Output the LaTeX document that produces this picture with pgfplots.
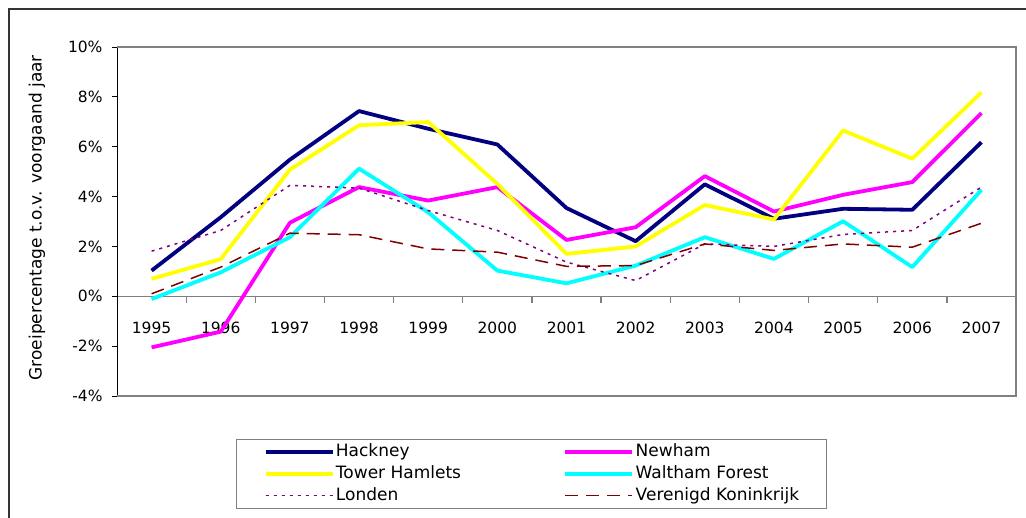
\documentclass[border=0pt]{standalone}
\usepackage{fontspec}
\setmainfont{DejaVu Sans}
\usepackage{pgfplots}
\usepackage{pgfplotstable}
\pgfplotsset{compat=1.18}
\definecolor{hack}{HTML}{000080}
\definecolor{newh}{HTML}{FF00FF}
\definecolor{towh}{HTML}{FFFF00}
\definecolor{walt}{HTML}{00FFFF}
\definecolor{lond}{HTML}{800080}
\definecolor{vk}{HTML}{800000}
\definecolor{frame}{HTML}{808080}
\pgfplotstableread{
x hackney newham tower waltham londen vk
0  1.03 -2.05 0.70 -0.11 1.81 0.10
1  3.17 -1.42 1.49  0.96 2.64 1.17
2  5.48  2.95 5.08  2.37 4.45 2.53
3  7.43  4.38 6.86  5.12 4.34 2.47
4  6.72  3.84 6.99  3.37 3.44 1.90
5  6.09  4.38 4.51  1.03 2.64 1.77
6  3.54  2.26 1.70  0.52 1.37 1.20
7  2.21  2.77 2.00  1.23 0.63 1.23
8  4.49  4.82 3.66  2.37 2.10 2.10
9  3.11  3.40 3.08  1.50 2.00 1.84
10 3.51  4.07 6.65  3.01 2.48 2.10
11 3.47  4.58 5.52  1.17 2.64 1.97
12 6.18  7.35 8.18  4.27 4.38 2.93
}\datatable
\newcommand{\fs}{\fontsize{15.5bp}{18bp}\selectfont}
\newcommand{\fl}{\fontsize{17bp}{20bp}\selectfont}
\begin{document}
\begin{tikzpicture}
\path[use as bounding box] (0,0) rectangle (1026bp,518bp);
\draw[line width=2bp, black!80] (9bp,-2bp) -- (9bp,509bp) -- (1028bp,509bp);
\begin{axis}[
  at={(117bp,122bp)}, anchor=south west,
  scale only axis, width=899bp, height=349bp,
  xmin=-0.5, xmax=12.5, ymin=-4, ymax=10,
  axis x line=middle, axis y line=left,
  axis line style={-},
  x axis line style={frame, line width=1.2bp},
  y axis line style={black, line width=0.8bp},
  xtick={0,...,12},
  xticklabels={1995,1996,1997,1998,1999,2000,2001,2002,2003,2004,2005,2006,2007},
  major x tick style={draw=none},
  xticklabel style={font=\fs, anchor=north, yshift=-17bp},
  ytick={-4,-2,0,2,4,6,8,10},
  yticklabels={-4\%,-2\%,0\%,2\%,4\%,6\%,8\%,10\%},
  major y tick style={black, line width=0.8bp},
  tick align=outside, major tick length=5bp,
  yticklabel style={font=\fs, anchor=east, xshift=-6bp},
  ylabel={Groeipercentage t.o.v. voorgaand jaar},
  ylabel style={font=\fl, at={(axis description cs:-0.089,0.511)}, anchor=center},
  legend columns=2,
  legend cell align=left,
  legend image code/.code={\draw[#1] (0bp,0bp) -- (67bp,0bp);},
  legend style={at={(axis description cs:0.1324,-0.1232)}, anchor=north west,
    draw=frame, line width=1.2bp, font=\fl, inner xsep=27bp, inner ysep=2bp,
    nodes={text height=12.5bp, text depth=3.5bp, inner ysep=2.8bp, inner xsep=1.5bp}},
  clip=false,
]
\draw[frame, line width=1.2bp] (rel axis cs:0,0) -- (rel axis cs:1,0) -- (rel axis cs:1,1) -- (rel axis cs:0,1);
\addplot[frame, line width=1.3bp, ycomb, no markers, forget plot] coordinates {
  (0.5,-0.25) (1.5,-0.25) (2.5,-0.25) (3.5,-0.25) (4.5,-0.25) (5.5,-0.25)
  (6.5,-0.25) (7.5,-0.25) (8.5,-0.25) (9.5,-0.25) (10.5,-0.25) (11.5,-0.25)};
\addplot[hack, line width=3.8bp, line join=round] table[x=x,y=hackney] {\datatable};
\addlegendentry{\makebox[226bp][l]{Hackney}}
\addplot[newh, line width=3.8bp, line join=round] table[x=x,y=newham] {\datatable};
\addlegendentry{\makebox[162bp][l]{Newham}}
\addplot[towh, line width=3.8bp, line join=round] table[x=x,y=tower] {\datatable};
\addlegendentry{\makebox[226bp][l]{Tower Hamlets}}
\addplot[walt, line width=3.8bp, line join=round] table[x=x,y=waltham] {\datatable};
\addlegendentry{\makebox[162bp][l]{Waltham Forest}}
\addplot[lond, line width=1.5bp, dash pattern=on 3bp off 5bp] table[x=x,y=londen] {\datatable};
\addlegendentry{\makebox[226bp][l]{Londen}}
\addplot[vk, line width=1.5bp, dash pattern=on 13bp off 8bp] table[x=x,y=vk] {\datatable};
\addlegendentry{\makebox[162bp][l]{Verenigd Koninkrijk}}
\end{axis}
\end{tikzpicture}
\end{document}
